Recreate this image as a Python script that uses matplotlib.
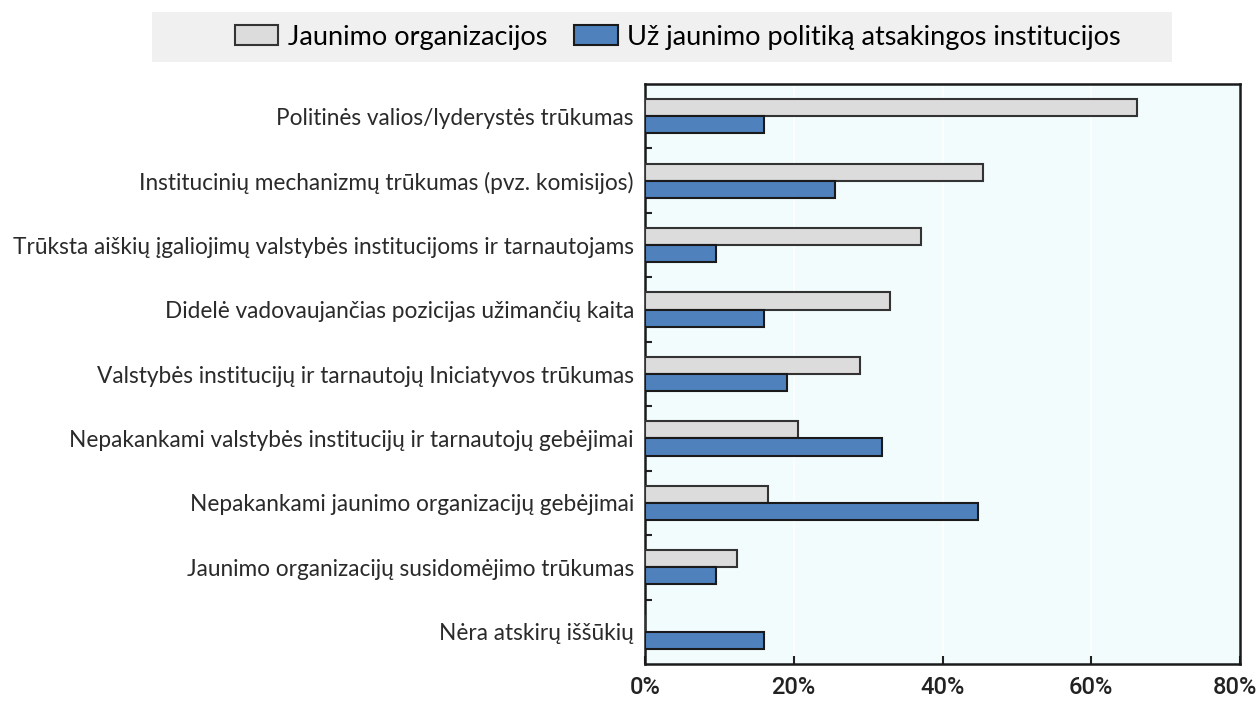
import matplotlib
matplotlib.use("Agg")
import matplotlib.pyplot as plt
import numpy as np
from matplotlib.patches import Rectangle, Patch
from matplotlib.ticker import PercentFormatter, FixedLocator
from matplotlib.transforms import ScaledTranslation

categories = [
    "Politinės valios/lyderystės trūkumas",
    "Institucinių mechanizmų trūkumas (pvz. komisijos)",
    "Trūksta aiškių įgaliojimų valstybės institucijoms ir tarnautojams",
    "Didelė vadovaujančias pozicijas užimančių kaita",
    "Valstybės institucijų ir tarnautojų Iniciatyvos trūkumas",
    "Nepakankami valstybės institucijų ir tarnautojų gebėjimai",
    "Nepakankami jaunimo organizacijų gebėjimai",
    "Jaunimo organizacijų susidomėjimo trūkumas",
    "Nėra atskirų iššūkių",
]
youth_orgs = [66.2, 45.5, 37.1, 33.0, 28.9, 20.6, 16.5, 12.4, 0.0]
institutions = [16.0, 25.6, 9.5, 16.0, 19.1, 31.9, 44.8, 9.5, 16.0]
series_names = ["Jaunimo organizacijos", "Už jaunimo politiką atsakingos institucijos"]
xticks = [0, 20, 40, 60, 80]

label_font = "Lato"
gray = "#dcdcdc"
blue = "#4f81bd"

fig = plt.figure(figsize=(12.6, 7.06), dpi=100)
fig.patch.set_facecolor("white")
ax = fig.add_axes([645/1260, 1-664/706, 595/1260, 580/706])
ax.set_facecolor("#f2fcfd")

n = len(categories)
y = np.arange(n)
h = 0.265
ax.barh(y - h/2, youth_orgs, height=h, color=gray, edgecolor="#333333", linewidth=1.5, zorder=3)
ax.barh(y + h/2, institutions, height=h, color=blue, edgecolor="#1a1a1a", linewidth=1.5, zorder=3)

ax.set_ylim(n - 0.5, -0.5)
ax.set_xlim(0, 80)
ax.set_yticks(y)
ax.set_yticklabels(categories, fontsize=16.3, family=label_font, color="#2a2a2a")
ax.tick_params(axis="y", length=0, pad=8)
ax.yaxis.set_minor_locator(FixedLocator(np.arange(0.5, n - 1, 1.0)))
ax.tick_params(axis="y", which="minor", direction="in", length=5, width=1.5, color="#222222")

ax.set_xticks(xticks)
ax.xaxis.set_major_formatter(PercentFormatter(decimals=0))
ax.tick_params(axis="x", direction="in", length=6, width=1.5, pad=9, labelsize=17, color="#222222")
fig.canvas.draw()
labels = ax.get_xticklabels()
for t in labels:
    t.set_family("Roboto")
    t.set_fontweight("medium")
    t.set_color("#222222")
last = labels[-1]
last.set_horizontalalignment("right")
last.set_transform(last.get_transform() + ScaledTranslation(17/100, 0, fig.dpi_scale_trans))

ax.grid(axis="x", color="white", linewidth=1.2, zorder=0)
for s in ax.spines.values():
    s.set_linewidth(1.8)
    s.set_color("#1a1a1a")

# legend band
fig.patches.append(Rectangle((152/1260, 1-62/706), 1020/1260, 50/706,
                             transform=fig.transFigure, facecolor="#f0f0f0",
                             edgecolor="none", zorder=0))
handles = [Patch(facecolor=gray, edgecolor="#333333", linewidth=1.5),
           Patch(facecolor=blue, edgecolor="#1a1a1a", linewidth=1.5)]
fig.legend(handles, series_names, loc="center", bbox_to_anchor=(678/1260, 1-37/706),
           ncol=2, frameon=False, prop={"family": label_font, "size": 19.5},
           handlelength=1.6, handleheight=0.8, columnspacing=1.0, handletextpad=0.35)

fig.savefig("out.png", dpi=100)
